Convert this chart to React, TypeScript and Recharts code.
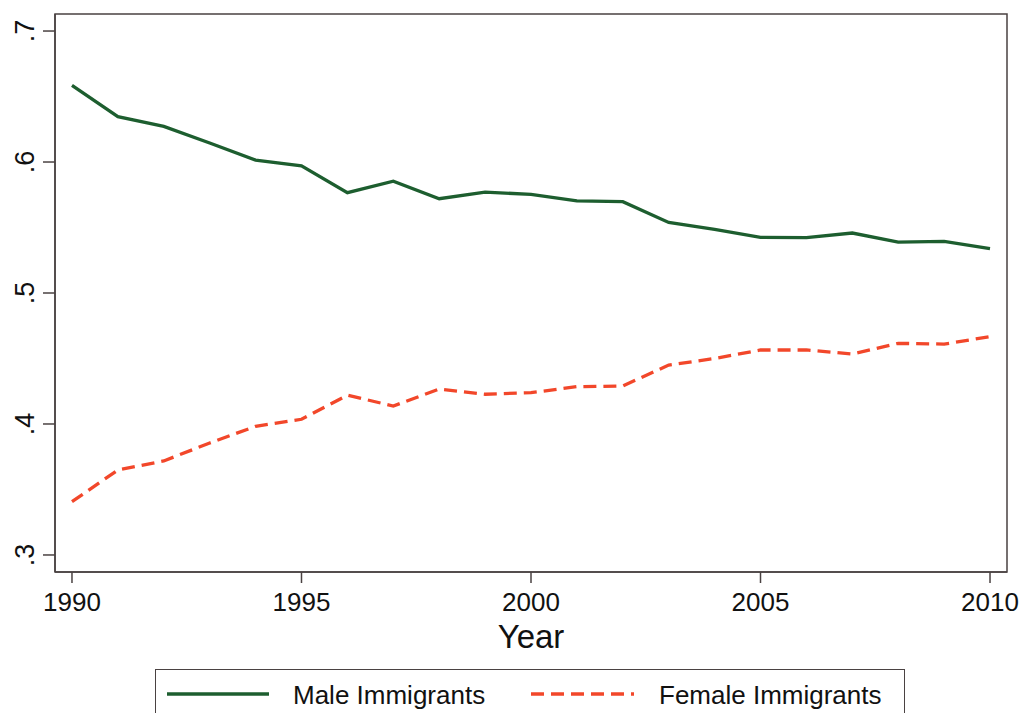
import React from "react";
import { LineChart, Line, XAxis, YAxis, ReferenceArea } from "recharts";

const years = [1990, 1991, 1992, 1993, 1994, 1995, 1996, 1997, 1998, 1999, 2000, 2001, 2002, 2003, 2004, 2005, 2006, 2007, 2008, 2009, 2010];
const maleShare = [0.6585, 0.6346, 0.6272, 0.6145, 0.6015, 0.597, 0.5766, 0.5853, 0.572, 0.577, 0.5753, 0.5703, 0.5697, 0.5539, 0.5486, 0.5425, 0.5422, 0.5458, 0.5389, 0.5394, 0.5338];
const femaleShare = [0.3407, 0.3649, 0.3718, 0.3855, 0.3982, 0.4036, 0.422, 0.4137, 0.4267, 0.4227, 0.4239, 0.4285, 0.429, 0.445, 0.45, 0.4565, 0.4565, 0.4534, 0.4616, 0.461, 0.4667];
const xTicks = [1990, 1995, 2000, 2005, 2010];
const yTicks = [0.3, 0.4, 0.5, 0.6, 0.7];
const yTickLabels = [".3", ".4", ".5", ".6", ".7"];
const seriesNames = ["Male Immigrants", "Female Immigrants"];
const xTitle = "Year";

const data = years.map((y, i) => ({ year: y, male: maleShare[i], female: femaleShare[i] }));

const X_DOMAIN: [number, number] = [1989.63, 2010.37];
const Y_DOMAIN: [number, number] = [0.287, 0.713];
const FONT = "'Liberation Sans', Arial, sans-serif";
const AXIS = "#4a4242";
const GREEN = "#1d5e2f";
const RED = "#f2472a";

const YTick = (props: any) => {
  const { y, payload } = props;
  const idx = yTicks.indexOf(payload.value);
  const label = idx >= 0 ? yTickLabels[idx] : String(payload.value);
  return (
    <text
      x={34}
      y={y}
      transform={`rotate(-90, 34, ${y})`}
      textAnchor="middle"
      fontSize={27}
      fontFamily={FONT}
      fill="#111"
    >
      {label}
    </text>
  );
};

const XTick = (props: any) => {
  const { x, payload } = props;
  return (
    <text x={x} y={611} textAnchor="middle" fontSize={26} fontFamily={FONT} fill="#111">
      {payload.value}
    </text>
  );
};

const XTitle = (props: any) => {
  const vb = props.viewBox || {};
  const cx = (vb.x ?? 0) + (vb.width ?? 0) / 2;
  return (
    <text x={cx} y={648} textAnchor="middle" fontSize={33} fontFamily={FONT} fill="#111">
      {xTitle}
    </text>
  );
};

export default function App() {
  return (
    <div style={{ position: "absolute", left: 0, top: 0, width: 1022, height: 713, overflow: "hidden", background: "#fff" }}>
      <LineChart width={1022} height={713} data={data} margin={{ top: 14, right: 15, left: 0, bottom: 0 }}>
        <XAxis
          dataKey="year"
          type="number"
          domain={X_DOMAIN}
          ticks={xTicks}
          allowDataOverflow
          height={141}
          tickSize={11}
          stroke={AXIS}
          strokeWidth={1.5}
          tick={<XTick />}
          label={<XTitle />}
        />
        <YAxis
          type="number"
          domain={Y_DOMAIN}
          ticks={yTicks}
          allowDataOverflow
          width={55}
          tickSize={12}
          stroke={AXIS}
          strokeWidth={1.5}
          tick={<YTick />}
        />
        <ReferenceArea x1={X_DOMAIN[0]} x2={X_DOMAIN[1]} y1={Y_DOMAIN[0]} y2={Y_DOMAIN[1]} fill="none" stroke={AXIS} strokeWidth={1.5} />
        <Line type="linear" dataKey="male" name={seriesNames[0]} stroke={GREEN} strokeWidth={3.3} dot={false} isAnimationActive={false} />
        <Line type="linear" dataKey="female" name={seriesNames[1]} stroke={RED} strokeWidth={3.3} strokeDasharray="13 7" dot={false} isAnimationActive={false} />
      </LineChart>
      <div
        style={{
          position: "absolute",
          left: 155,
          top: 669,
          width: 750,
          height: 80,
          border: `1.5px solid ${AXIS}`,
          boxSizing: "border-box",
        }}
      >
        <svg width={750} height={60} style={{ position: "absolute", left: 0, top: 0 }}>
          <line x1={11} x2={113} y1={24} y2={24} stroke={GREEN} strokeWidth={3.3} />
          <text x={137} y={34} fontSize={26} fontFamily={FONT} fill="#111">{seriesNames[0]}</text>
          <line x1={375} x2={478} y1={24} y2={24} stroke={RED} strokeWidth={3.3} strokeDasharray="13 7" />
          <text x={503} y={34} fontSize={26} fontFamily={FONT} fill="#111">{seriesNames[1]}</text>
        </svg>
      </div>
    </div>
  );
}
